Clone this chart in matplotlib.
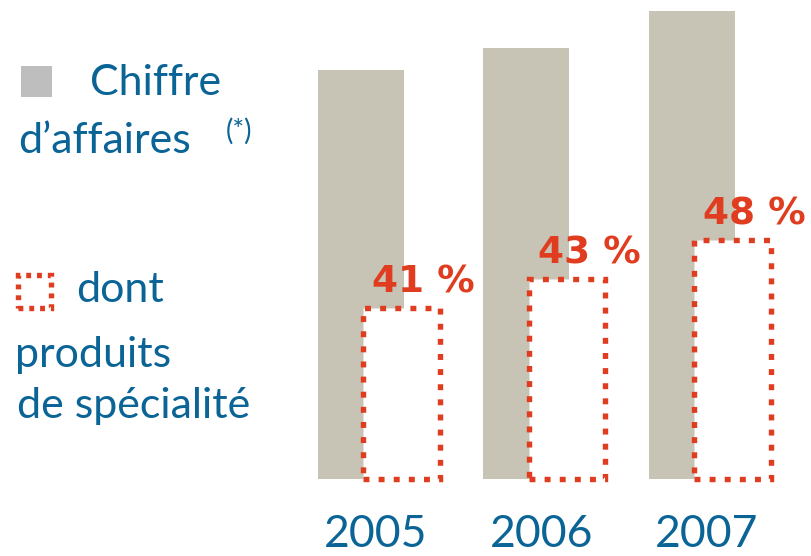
import matplotlib
matplotlib.use("Agg")
import matplotlib.pyplot as plt
from matplotlib.patches import Rectangle
import numpy as np

# --- Data (arbitrary units) ---
years = ["2005", "2006", "2007"]
chiffre_affaires = [409, 431, 468]        # grey bars
produits_specialite = [171, 200, 239]     # dotted red bars
part_specialite = ["41 %", "43 %", "48 %"]

# --- Styles ---
GREY_BAR = "#c8c4b5"
GREY_LEGEND = "#bebebe"
RED = "#e03c1f"
BLUE = "#0b6496"
FONT = ["Lato", "DejaVu Sans"]
W, H = 812, 556

plt.rcParams["font.family"] = FONT

fig = plt.figure(figsize=(W / 100, H / 100), dpi=100)


def fx(px):
    return px / W


def fy(py):
    return 1 - py / H


# plot area: from x=300px to the right edge, baseline at y=479px
ax = fig.add_axes([fx(300), fy(479), fx(512), 479 / H])
ax.set_ylim(0, 479)
ax.set_xlim(-0.368, 2.725)

x = np.arange(len(years))
grey_w = 0.52
spec_off = 0.245
spec_w = 0.465
lw = 5.4 * 72 / 100   # ~5.4 px

ax.bar(x, chiffre_affaires, width=grey_w, color=GREY_BAR, zorder=1)
ax.bar(x + spec_off, produits_specialite, width=spec_w, facecolor="white",
       edgecolor=RED, linewidth=lw, linestyle=(0, (1.1, 1.7)),
       zorder=2, clip_on=False)

for xi, h, lab in zip(x, produits_specialite, part_specialite):
    ax.annotate(lab, xy=(xi + spec_off, h), xytext=(16, 11),
                textcoords="offset points", ha="center", va="baseline",
                color=RED, fontsize=27, fontweight="bold",
                family="DejaVu Sans", zorder=3)

ax.set_xticks(x + 0.09)
ax.set_xticklabels(years, color=BLUE, fontsize=32)
ax.tick_params(axis="x", length=0, pad=25)
ax.set_yticks([])
for s in ax.spines.values():
    s.set_visible(False)
ax.patch.set_visible(False)

# --- Legend (left side) ---
fig.add_artist(Rectangle((fx(21), fy(97)), fx(52) - fx(21), fy(66) - fy(97),
                         transform=fig.transFigure, facecolor=GREY_LEGEND,
                         edgecolor="none"))
fig.text(fx(90), fy(95), "Chiffre", color=BLUE, fontsize=31, va="baseline")
fig.text(fx(18), fy(153), "d\u2019affaires", color=BLUE, fontsize=31, va="baseline")
fig.text(fx(226), fy(140), "(*)", color=BLUE, fontsize=20, va="baseline")

fig.add_artist(Rectangle((fx(18), fy(308)), fx(51) - fx(18), fy(275) - fy(308),
                         transform=fig.transFigure, facecolor="none",
                         edgecolor=RED, linewidth=lw,
                         linestyle=(0, (0.9, 1.1))))
fig.text(fx(76), fy(302), "dont", color=BLUE, fontsize=31, va="baseline")
fig.text(fx(15), fy(367), "produits", color=BLUE, fontsize=31, va="baseline")
fig.text(fx(17), fy(418), "de spécialité", color=BLUE, fontsize=31, va="baseline")

fig.savefig("out.png", dpi=100)
